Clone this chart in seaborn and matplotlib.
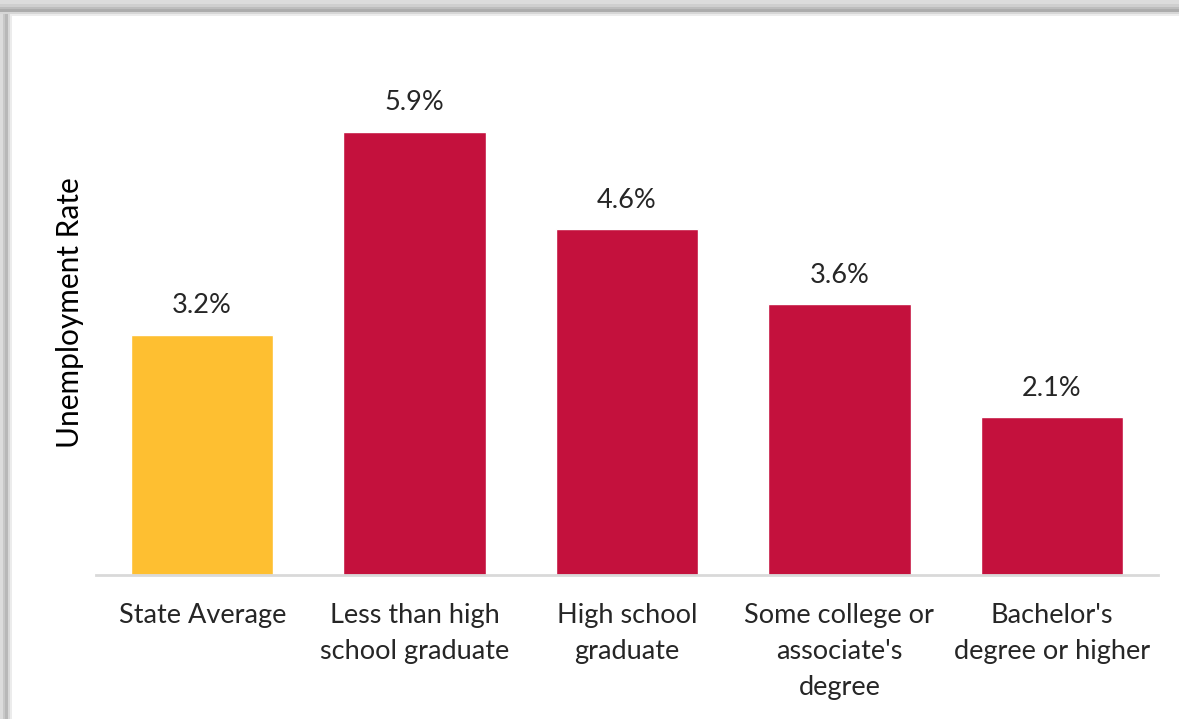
import matplotlib
matplotlib.use("Agg")
import matplotlib.pyplot as plt
from matplotlib.patches import Rectangle
import seaborn as sns
import pandas as pd

categories = ["State Average", "Less than high\nschool graduate", "High school\ngraduate",
              "Some college or\nassociate's\ndegree", "Bachelor's\ndegree or higher"]
rates = [3.2, 5.9, 4.6, 3.6, 2.1]
value_labels = ["3.2%", "5.9%", "4.6%", "3.6%", "2.1%"]
colors = ["#FEBF31", "#C4113D", "#C4113D", "#C4113D", "#C4113D"]

sns.set_theme(style="white")
plt.rcParams['font.family'] = ['Lato', 'DejaVu Sans']

df = pd.DataFrame({"cat": categories, "rate": rates})

fig = plt.figure(figsize=(11.79, 7.19), dpi=100)
fig.patch.set_facecolor("white")

# frame shadow along top and left edges
W, H = 1179, 719
shades = [(0, "#dcdcdc"), (4, "#cfcfcf"), (7, "#bdbdbd"), (9, "#acacac"), (12, "#d6d6d6"), (14, "#ececec")]
for i, (off, col) in enumerate(shades):
    nxt = shades[i + 1][0] if i + 1 < len(shades) else 16
    th = nxt - off
    fig.patches.append(Rectangle((0, 1 - (off + th) / H), 1, th / H, transform=fig.transFigure,
                                 facecolor=col, edgecolor="none", zorder=0))
lshades = [(0, "#dcdcdc"), (3, "#c8c8c8"), (5, "#b8b8b8"), (8, "#d8d8d8"), (10, "#ececec")]
for i, (off, col) in enumerate(lshades):
    nxt = lshades[i + 1][0] if i + 1 < len(lshades) else 12
    th = nxt - off
    fig.patches.append(Rectangle((off / W, 0), th / W, 1 - 14 / H, transform=fig.transFigure,
                                 facecolor=col, edgecolor="none", zorder=0))

ax = fig.add_axes([96 / W, 1 - 575 / H, (1158 - 96) / W, (575 - 49) / H])
ax.set_facecolor("none")
sns.barplot(data=df, x="cat", y="rate", hue="cat", palette=colors, legend=False,
            width=0.67, saturation=1, ax=ax)

ax.set_xlim(-0.5, 4.5)
ax.set_ylim(0, 7)
for i, (v, lab) in enumerate(zip(rates, value_labels)):
    ax.annotate(lab, (i, v), xytext=(0, 12), textcoords="offset points", ha="center",
                va="bottom", fontsize=19.5, color="#262626")

for s in ["top", "right", "left"]:
    ax.spines[s].set_visible(False)
ax.spines["bottom"].set_color("#d9d9d9")
ax.spines["bottom"].set_linewidth(2)
ax.set_yticks([])
ax.set_xlabel("")
ax.set_ylabel("Unemployment Rate", fontsize=21.5, color="#000000")
ax.yaxis.set_label_coords(-0.011, 0.5 + (575 - 313 - (575 - 49) / 2) / (575 - 49))
ax.tick_params(axis="x", length=0, pad=20, labelsize=19.5, labelcolor="#262626")
for t in ax.get_xticklabels():
    t.set_linespacing(1.55)
    t.set_va("top")

fig.savefig("out.png", dpi=100)
